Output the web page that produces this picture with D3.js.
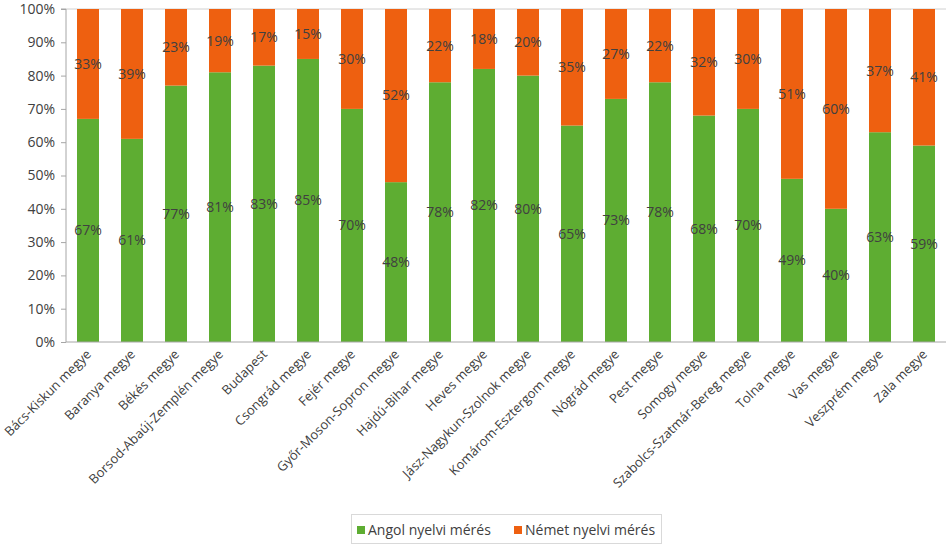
<!DOCTYPE html>
<html><head><meta charset="utf-8">
<script src="https://cdn.jsdelivr.net/npm/d3@7"></script>
<style>body{margin:0;background:#fff;} svg{display:block;font-family:"Open Sans",sans-serif;}</style>
</head><body>
<svg id="chart" width="946" height="544"></svg>
<script>
const categories = ["Bács-Kiskun megye","Baranya megye","Békés megye","Borsod-Abaúj-Zemplén megye","Budapest","Csongrád megye","Fejér megye","Győr-Moson-Sopron megye","Hajdú-Bihar megye","Heves megye","Jász-Nagykun-Szolnok megye","Komárom-Esztergom megye","Nógrád megye","Pest megye","Somogy megye","Szabolcs-Szatmár-Bereg megye","Tolna megye","Vas megye","Veszprém megye","Zala megye"];
const angol = [67,61,77,81,83,85,70,48,78,82,80,65,73,78,68,70,49,40,63,59];
const nemet = [33,39,23,19,17,15,30,52,22,18,20,35,27,22,32,30,51,60,37,41];
const seriesNames = ["Angol nyelvi mérés","Német nyelvi mérés"];
const colors = ["#5EAD32","#EE6010"];
const yTicks = [0,10,20,30,40,50,60,70,80,90,100];

const svg = d3.select("#chart");
const m = {left:66, right:0, top:9, bottom:202};
const W = 946, H = 544;
const FS = "14px";
const x = d3.scaleBand().domain(categories).range([m.left, W - m.right]).paddingInner(0.5).paddingOuter(0.25);
const y = d3.scaleLinear().domain([0,100]).range([H - m.bottom, m.top]);

// top line
svg.append("line").attr("x1", m.left).attr("x2", W).attr("y1", y(100)).attr("y2", y(100)).attr("stroke","#d0d0d0");

const data = categories.map((c,i)=>({c, a: angol[i], n: nemet[i]}));
const stack = d3.stack().keys(["a","n"])(data);

stack.forEach((layer, li) => {
  const g = svg.append("g");
  g.selectAll("rect").data(layer).join("rect")
    .attr("x", d => x(d.data.c))
    .attr("width", x.bandwidth())
    .attr("y", d => y(d[1]))
    .attr("height", d => y(d[0]) - y(d[1]))
    .attr("fill", colors[li]);
  g.selectAll("text").data(layer).join("text")
    .attr("x", d => x(d.data.c) + x.bandwidth()/2)
    .attr("y", d => (y(d[0]) + y(d[1]))/2)
    .attr("dy","0.35em")
    .attr("text-anchor","middle")
    .attr("font-size",FS)
    .attr("fill","#404040")
    .text(d => Math.round(d[1]-d[0]) + "%");
});

// y axis
const yAxis = d3.axisLeft(y).tickValues(yTicks).tickFormat(d => d + "%").tickSize(5).tickPadding(6);
const ya = svg.append("g").attr("transform", `translate(${m.left},0)`).call(yAxis);
ya.select(".domain").attr("stroke","#a6a6a6").attr("d", `M-5,${y(100)}H0V${y(0)}`);
ya.selectAll(".tick line").attr("stroke","#a6a6a6");
ya.selectAll(".tick text").attr("font-size",FS).attr("fill","#404040").attr("font-family","'Open Sans',sans-serif");

// x axis
const xAxis = d3.axisBottom(x).tickSize(0).tickPadding(0);
const xa = svg.append("g").attr("transform", `translate(0,${y(0)})`).call(xAxis);
xa.select(".domain").attr("stroke","#a6a6a6").attr("d", `M${m.left},0H${W}`);
xa.selectAll(".tick text")
  .attr("font-size","13px").attr("fill","#404040").attr("font-family","'Open Sans',sans-serif")
  .attr("text-anchor","end").attr("dy","0")
  .attr("transform","translate(4,13) rotate(-45)");

// legend
const lg = svg.append("g");
lg.append("rect").attr("x",351.5).attr("y",514.5).attr("width",310).attr("height",29).attr("fill","none").attr("stroke","#d9d9d9");
const legX = [357, 514];
seriesNames.forEach((s,i)=>{
  lg.append("rect").attr("x",legX[i]).attr("y",526).attr("width",8).attr("height",8).attr("fill",colors[i]);
  lg.append("text").attr("x",legX[i]+11).attr("y",530).attr("dy","0.35em")
    .attr("font-size",FS).attr("fill","#404040").text(s);
});
</script>
</body></html>
